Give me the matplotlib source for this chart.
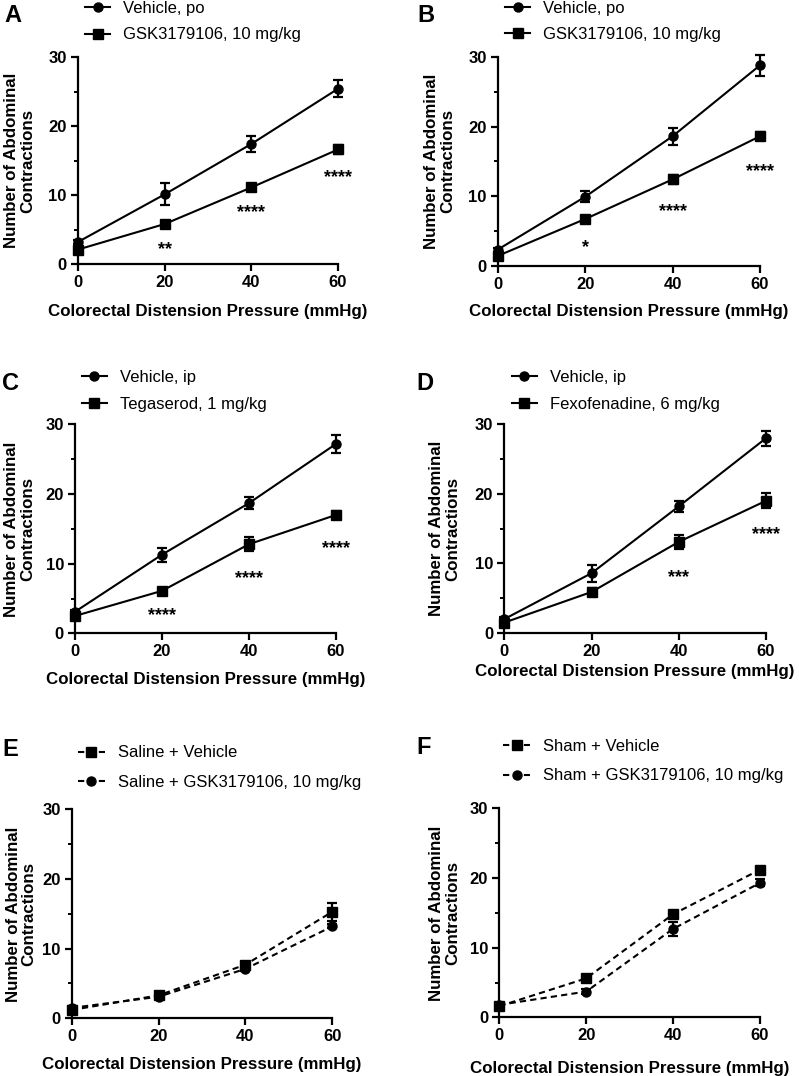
import matplotlib
matplotlib.use("Agg")
import matplotlib.pyplot as plt
from matplotlib.ticker import MultipleLocator

plt.rcParams["font.family"] = ["Liberation Sans", "DejaVu Sans"]

pressure = [0, 20, 40, 60]

# panel A
a_veh = [3.2, 10.1, 17.4, 25.4]
a_veh_err = [0.3, 1.6, 1.2, 1.2]
a_gsk = [2.1, 5.8, 11.1, 16.6]
a_gsk_err = [0.3, 0.3, 0.3, 0.6]
a_stars = ["", "**", "****", "****"]
a_star_y = [0, 2.1, 7.5, 12.5]

# panel B
b_veh = [2.3, 9.9, 18.6, 28.8]
b_veh_err = [0.3, 0.8, 1.2, 1.5]
b_gsk = [1.4, 6.7, 12.4, 18.6]
b_gsk_err = [0.3, 0.3, 0.6, 0.6]
b_stars = ["", "*", "****", "****"]
b_star_y = [0, 2.6, 7.7, 13.5]

# panel C
c_veh = [3.1, 11.3, 18.7, 27.2]
c_veh_err = [0.3, 1.0, 0.9, 1.3]
c_teg = [2.5, 6.1, 12.8, 17.0]
c_teg_err = [0.3, 0.3, 1.0, 0.5]
c_stars = ["", "****", "****", "****"]
c_star_y = [0, 2.6, 7.9, 12.2]

# panel D
d_veh = [2.0, 8.6, 18.2, 28.0]
d_veh_err = [0.3, 1.2, 0.8, 1.1]
d_fex = [1.5, 5.9, 13.1, 19.0]
d_fex_err = [0.3, 0.5, 1.0, 1.1]
d_stars = ["", "", "***", "****"]
d_star_y = [0, 0, 8.0, 14.2]

# panel E
e_sal_veh = [1.2, 3.3, 7.7, 15.3]
e_sal_veh_err = [0.3, 0.4, 0.4, 1.3]
e_sal_gsk = [1.5, 3.1, 7.1, 13.2]
e_sal_gsk_err = [0.3, 0.3, 0.3, 0.3]

# panel F
f_sham_veh = [1.6, 5.6, 14.8, 21.2]
f_sham_veh_err = [0.3, 0.3, 0.3, 0.4]
f_sham_gsk = [1.8, 3.7, 12.7, 19.3]
f_sham_gsk_err = [0.3, 0.3, 1.0, 0.5]

XLABEL = "Colorectal Distension Pressure (mmHg)"
YLABEL = "Number of Abdominal\nContractions"


def draw_panel(ax, series, stars=None, star_y=None, dashed=False,
               leg_pos=(0.027, 1.17), xlab_y=-0.19, ylab_x=-0.16):
    ls = (0, (3, 2)) if dashed else "-"
    for label, y, err, marker in series:
        ax.errorbar(pressure, y, yerr=err, fmt="none", ecolor="black",
                    elinewidth=1.6, capsize=3.5, capthick=1.6, clip_on=False,
                    zorder=3)
        ax.plot(pressure, y, color="black", linestyle=ls, linewidth=1.5,
                marker=marker, markersize=6.5 if marker == "o" else 7,
                label=label, clip_on=False, zorder=4)
    if stars is not None:
        for x, s, sy in zip(pressure, stars, star_y):
            if s:
                ax.text(x, sy, s, ha="center", va="center", fontsize=13,
                        fontweight="bold")

    ax.set_xlim(0, 60)
    ax.set_ylim(0, 30)
    ax.set_xticks(pressure)
    ax.set_yticks([0, 10, 20, 30])
    ax.yaxis.set_minor_locator(MultipleLocator(5))
    ax.spines["top"].set_visible(False)
    ax.spines["right"].set_visible(False)
    for sp in ("left", "bottom"):
        ax.spines[sp].set_linewidth(1.6)
    ax.tick_params(which="major", length=5, width=1.6, labelsize=12, pad=3)
    ax.tick_params(which="minor", length=3, width=1.4)
    for lab in ax.get_xticklabels() + ax.get_yticklabels():
        lab.set_fontweight("bold")

    ax.set_xlabel(XLABEL, fontsize=12.2, fontweight="bold")
    ax.set_ylabel(YLABEL, fontsize=12.2, fontweight="bold", linespacing=1.1)
    ax.xaxis.set_label_coords(0.5, xlab_y)
    ax.yaxis.set_label_coords(ylab_x, 0.5)

    ax.legend(loc="center left", bbox_to_anchor=leg_pos, frameon=False,
              fontsize=12, borderpad=0, borderaxespad=0,
              handlelength=1.6 if dashed else 1.5, handletextpad=0.8,
              labelspacing=0.7 if not dashed else 0.85)


fig = plt.figure(figsize=(7.99, 10.76), dpi=100)

axA = fig.add_axes([0.0976, 0.7546, 0.3254, 0.1924])
axB = fig.add_axes([0.6229, 0.7531, 0.3283, 0.1940])
axC = fig.add_axes([0.0939, 0.4114, 0.3267, 0.1942])
axD = fig.add_axes([0.6312, 0.4117, 0.3275, 0.1940])
axE = fig.add_axes([0.0897, 0.0536, 0.3262, 0.1942])
axF = fig.add_axes([0.6249, 0.0545, 0.3262, 0.1942])

draw_panel(axA, [("Vehicle, po", a_veh, a_veh_err, "o"),
                 ("GSK3179106, 10 mg/kg", a_gsk, a_gsk_err, "s")],
           a_stars, a_star_y, leg_pos=(0.027, 1.171), xlab_y=-0.193,
           ylab_x=-0.165)
draw_panel(axB, [("Vehicle, po", b_veh, b_veh_err, "o"),
                 ("GSK3179106, 10 mg/kg", b_gsk, b_gsk_err, "s")],
           b_stars, b_star_y, leg_pos=(0.028, 1.170), xlab_y=-0.183,
           ylab_x=-0.163)
draw_panel(axC, [("Vehicle, ip", c_veh, c_veh_err, "o"),
                 ("Tegaserod, 1 mg/kg", c_teg, c_teg_err, "s")],
           c_stars, c_star_y, leg_pos=(0.026, 1.160), xlab_y=-0.187,
           ylab_x=-0.153)
draw_panel(axD, [("Vehicle, ip", d_veh, d_veh_err, "o"),
                 ("Fexofenadine, 6 mg/kg", d_fex, d_fex_err, "s")],
           d_stars, d_star_y, leg_pos=(0.028, 1.160), xlab_y=-0.148,
           ylab_x=-0.169)
draw_panel(axE, [("Saline + Vehicle", e_sal_veh, e_sal_veh_err, "s"),
                 ("Saline + GSK3179106, 10 mg/kg", e_sal_gsk, e_sal_gsk_err, "o")],
           dashed=True, leg_pos=(0.024, 1.200), xlab_y=-0.186, ylab_x=-0.134)
draw_panel(axF, [("Sham + Vehicle", f_sham_veh, f_sham_veh_err, "s"),
                 ("Sham + GSK3179106, 10 mg/kg", f_sham_gsk, f_sham_gsk_err, "o")],
           dashed=True, leg_pos=(0.015, 1.225), xlab_y=-0.21, ylab_x=-0.151)

for letter, x, y in [("A", 4, 15), ("B", 417, 15), ("C", 2, 383),
                     ("D", 416, 383), ("E", 2, 750), ("F", 416, 747)]:
    fig.text(x / 799, 1 - y / 1076, letter, fontsize=17, fontweight="bold",
             ha="left", va="center")

fig.savefig("out.png", dpi=100)
